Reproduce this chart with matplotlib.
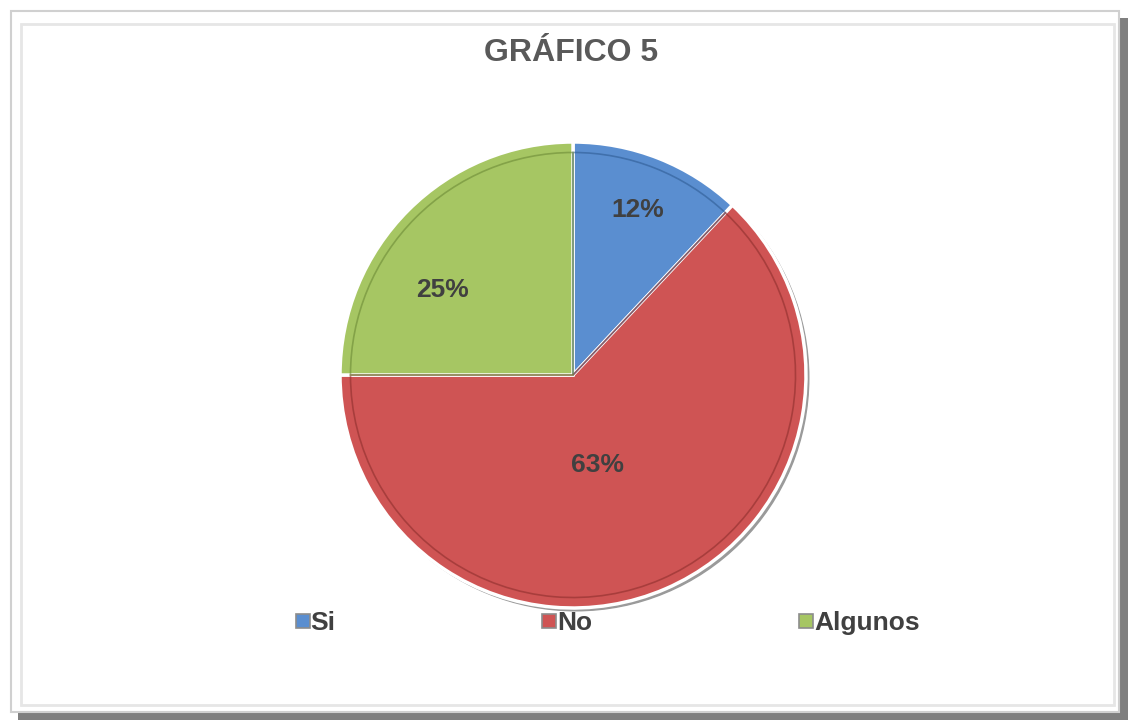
import matplotlib.pyplot as plt
from matplotlib.patches import Rectangle, Circle
from matplotlib.lines import Line2D
import numpy as np

# data
labels = ["Si", "No", "Algunos"]
values = [12, 63, 25]
colors = ["#5A8ED0", "#CF5454", "#A6C663"]
dark = ["#2F5C94", "#8E2F2D", "#6C8A36"]
title = "GRÁFICO 5"
# label placement (fraction of radius, angle shift in degrees)
label_r = [0.76, 0.40, 0.67]
label_shift = [0, -8, 12]

plt.rcParams["font.family"] = ["Liberation Sans", "DejaVu Sans"]

W, H = 1131, 728
fig = plt.figure(figsize=(W / 100, H / 100), dpi=100)

# frame with shadow
fig.patches.append(Rectangle((18 / W, 1 - 720 / H), 1110 / W, 702 / H, transform=fig.transFigure,
                             facecolor="#7f7f7f", edgecolor="none", zorder=0))
fig.patches.append(Rectangle((11 / W, 1 - 712 / H), 1108 / W, 701 / H, transform=fig.transFigure,
                             facecolor="white", edgecolor="#d0d0d0", linewidth=1.5, zorder=1))
fig.patches.append(Rectangle((21 / W, 1 - 705 / H), 1093 / W, 681 / H, transform=fig.transFigure,
                             facecolor="white", edgecolor="#e6e6e6", linewidth=2, zorder=1))

fig.text(571 / W, 1 - 53 / H, title, ha="center", va="center", fontsize=23,
         fontweight="bold", color="#595959")

cx, cy, r = 573, 375, 233
ax = fig.add_axes([(cx - r) / W, (H - cy - r) / H, 2 * r / W, 2 * r / H])
ax.set_zorder(2)

# soft shadow ring
ax.add_patch(Circle((0.012, -0.012), 1.0, color="#9a9a9a", zorder=0, clip_on=False))

wedges, _ = ax.pie(values, colors=colors, startangle=90, counterclock=False, radius=1.0,
                   wedgeprops=dict(edgecolor="white", linewidth=2.5))
for w in wedges:
    w.set_zorder(1)
    w.set_clip_on(False)

# inner bevel lines
inner, _ = ax.pie(values, colors=colors, startangle=90, counterclock=False, radius=0.955)
for w, d in zip(inner, dark):
    w.set_facecolor("none")
    w.set_edgecolor(d)
    w.set_linewidth(1.2)
    w.set_alpha(0.6)
    w.set_zorder(2)

for w, v, rf, sh in zip(wedges, values, label_r, label_shift):
    ang = np.deg2rad((w.theta1 + w.theta2) / 2 + sh)
    ax.text(rf * np.cos(ang), rf * np.sin(ang), f"{v}%", ha="center", va="center",
            fontsize=19, fontweight="bold", color="#404040", zorder=5)

ax.set_xlim(-1.0, 1.0)
ax.set_ylim(-1.0, 1.0)
ax.set_aspect("equal")
ax.axis("off")

handles = [Line2D([], [], marker="s", linestyle="none", markersize=10, markerfacecolor=c,
                  markeredgecolor="#8c8c8c", markeredgewidth=1.2) for c in colors]
leg = fig.legend(handles, labels, loc="center", ncol=3,
                 bbox_to_anchor=(608 / W, 1 - 623 / H),
                 frameon=False, handlelength=0.5, handletextpad=0.05, columnspacing=7.85,
                 prop=dict(size=19, weight="bold"))
for t in leg.get_texts():
    t.set_color("#404040")

fig.savefig("out.png", dpi=100)
